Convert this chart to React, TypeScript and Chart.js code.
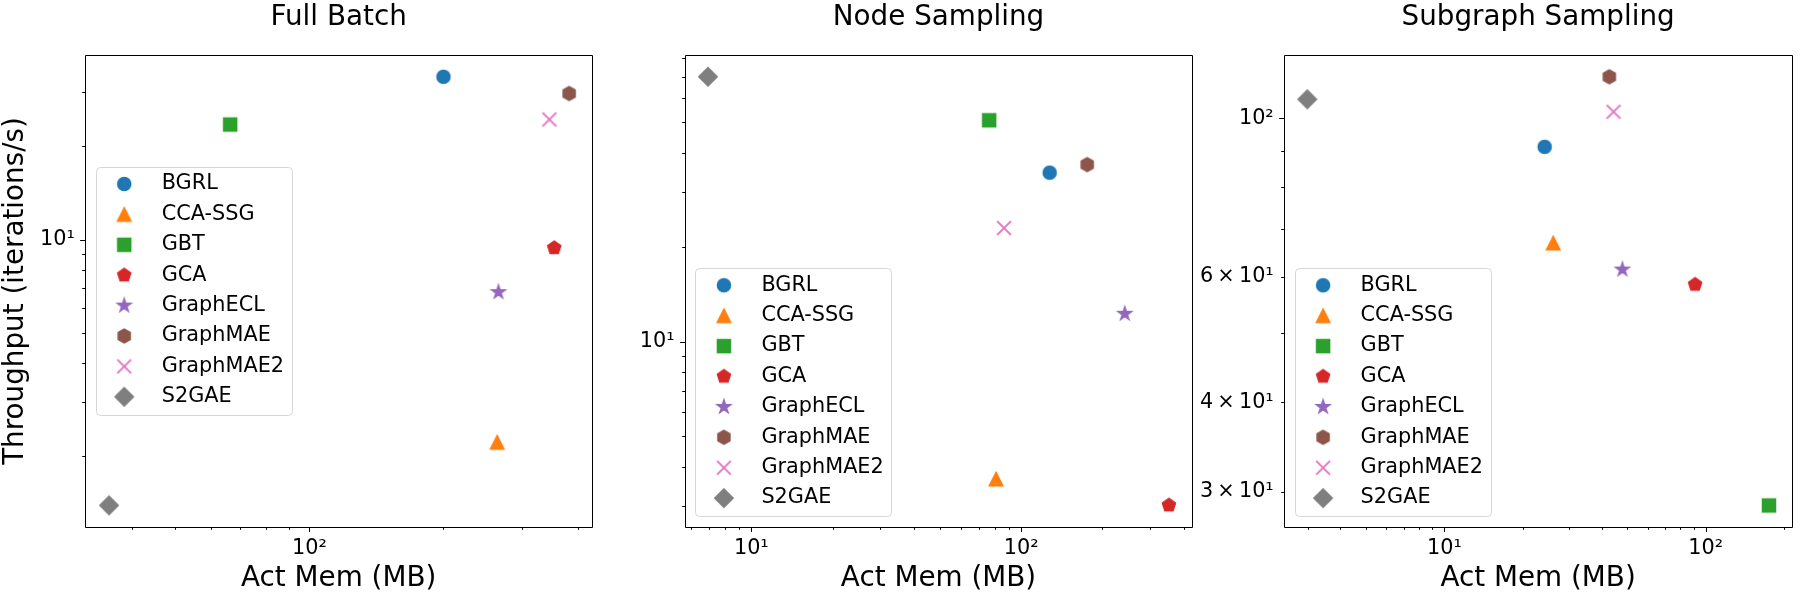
import React, { useEffect, useRef } from 'react';
import { Chart, registerables } from 'chart.js';

Chart.register(...registerables);

// ---------- data ----------
const methods = ['BGRL', 'CCA-SSG', 'GBT', 'GCA', 'GraphECL', 'GraphMAE', 'GraphMAE2', 'S2GAE'];
const colors = ['#1f77b4', '#ff7f0e', '#2ca02c', '#d62728', '#9467bd', '#8c564b', '#e377c2', '#7f7f7f'];
const markerKinds = ['circle', 'triangle', 'square', 'pentagon', 'star', 'hexagon', 'x', 'diamond'];

const panelTitles = ['Full Batch', 'Node Sampling', 'Subgraph Sampling'];
const xAxisTitle = 'Act Mem (MB)';
const yAxisTitle = 'Throughput (iterations/s)';

// Act Mem (MB) per method
const fullBatchMem = [200, 264, 66.4, 354.5, 265.8, 383, 345.8, 35.5];
const nodeSamplingMem = [127.5, 80.7, 76.1, 352.7, 242, 175.7, 86.4, 6.91];
const subgraphSamplingMem = [24.2, 26.1, 174.6, 91.1, 48, 42.8, 44.4, 2.99];

// Throughput (iterations/s) per method
const fullBatchThroughput = [33.5, 2.22, 23.5, 9.4, 6.77, 29.6, 24.4, 1.39];
const nodeSamplingThroughput = [34.6, 3.66, 50.8, 3.02, 12.29, 36.7, 23.05, 69.9];
const subgraphSamplingThroughput = [91.2, 66.9, 28.7, 58.5, 61.4, 114.3, 102.1, 106.3];

// axis limits
const fullBatchXRange = [31.4, 431];
const fullBatchYRange = [1.186, 39.3];
const nodeSamplingXRange = [5.68, 429.5];
const nodeSamplingYRange = [2.58, 81.8];
const subgraphSamplingXRange = [2.44, 213.9];
const subgraphSamplingYRange = [26.8, 122.5];

// tick positions
const fullBatchXTicks = [40, 50, 60, 70, 80, 90, 100, 200, 300, 400];
const fullBatchYTicks = [2, 3, 4, 5, 6, 7, 8, 9, 10, 20, 30];
const nodeSamplingXTicks = [6, 7, 8, 9, 10, 20, 30, 40, 50, 60, 70, 80, 90, 100, 200, 300, 400];
const nodeSamplingYTicks = [3, 4, 5, 6, 7, 8, 9, 10, 20, 30, 40, 50, 60, 70, 80];
const subgraphSamplingXTicks = [3, 4, 5, 6, 7, 8, 9, 10, 20, 30, 40, 50, 60, 70, 80, 90, 100, 200];
const subgraphSamplingYTicks = [30, 40, 50, 60, 70, 80, 90, 100];

// tick labels
const decadeTickLabels: Record<number, string> = { 10: '10\u00B9', 100: '10\u00B2' };
const subgraphYTickLabels: Record<number, string> = {
  30: '3\u2009\u00D7\u200910\u00B9',
  40: '4\u2009\u00D7\u200910\u00B9',
  60: '6\u2009\u00D7\u200910\u00B9',
  100: '10\u00B2',
};

// ---------- styling / layout ----------
const FONT = 'DejaVu Sans';
const TITLE_SIZE = 27.8;
const TICK_SIZE = 20.8;
const LEGEND_SIZE = 20.8;
const CANVAS_W = 600;
const CANVAS_H = 600;
const AREA_TOP = 55.3;
const AREA_BOTTOM = 526.7;

type PanelCfg = {
  title: string;
  mem: number[];
  thr: number[];
  xRange: number[];
  yRange: number[];
  xTicks: number[];
  yTicks: number[];
  xLabels: Record<number, string>;
  yLabels: Record<number, string>;
  showYTitle: boolean;
  legendLoc: 'center left' | 'lower left';
  areaLeft: number;
  areaRight: number;
  offset: number;
};

const panels: PanelCfg[] = [
  {
    title: panelTitles[0], mem: fullBatchMem, thr: fullBatchThroughput,
    xRange: fullBatchXRange, yRange: fullBatchYRange,
    xTicks: fullBatchXTicks, yTicks: fullBatchYTicks,
    xLabels: decadeTickLabels, yLabels: decadeTickLabels,
    showYTitle: true, legendLoc: 'center left', areaLeft: 85.3, areaRight: 596.4, offset: 0,
  },
  {
    title: panelTitles[1], mem: nodeSamplingMem, thr: nodeSamplingThroughput,
    xRange: nodeSamplingXRange, yRange: nodeSamplingYRange,
    xTicks: nodeSamplingXTicks, yTicks: nodeSamplingYTicks,
    xLabels: decadeTickLabels, yLabels: decadeTickLabels,
    showYTitle: false, legendLoc: 'lower left', areaLeft: 85.0, areaRight: 595.5, offset: 600,
  },
  {
    title: panelTitles[2], mem: subgraphSamplingMem, thr: subgraphSamplingThroughput,
    xRange: subgraphSamplingXRange, yRange: subgraphSamplingYRange,
    xTicks: subgraphSamplingXTicks, yTicks: subgraphSamplingYTicks,
    xLabels: decadeTickLabels, yLabels: subgraphYTickLabels,
    showYTitle: false, legendLoc: 'lower left', areaLeft: 84.2, areaRight: 594.7, offset: 1200,
  },
];

// ---------- marker images ----------
function makeMarker(kind: string, color: string): HTMLCanvasElement {
  const c = document.createElement('canvas');
  c.width = 28;
  c.height = 28;
  const g = c.getContext('2d') as CanvasRenderingContext2D;
  g.translate(14, 14);
  g.fillStyle = color;
  g.strokeStyle = color;
  g.lineWidth = 1.3;
  g.lineJoin = 'miter';
  g.beginPath();
  const poly = (n: number, R: number) => {
    for (let k = 0; k < n; k++) {
      const a = -Math.PI / 2 + (2 * Math.PI * k) / n;
      const px = R * Math.cos(a);
      const py = R * Math.sin(a);
      if (k === 0) g.moveTo(px, py);
      else g.lineTo(px, py);
    }
    g.closePath();
  };
  switch (kind) {
    case 'circle':
      g.arc(0, 0, 6.6, 0, Math.PI * 2);
      break;
    case 'square':
      g.rect(-6.6, -6.6, 13.2, 13.2);
      break;
    case 'triangle':
      g.moveTo(0, -6.9);
      g.lineTo(6.9, 6.9);
      g.lineTo(-6.9, 6.9);
      g.closePath();
      break;
    case 'pentagon':
      poly(5, 7);
      break;
    case 'hexagon':
      poly(6, 7);
      break;
    case 'star': {
      const R = 7.3;
      const r = R * 0.381966;
      for (let k = 0; k < 10; k++) {
        const a = -Math.PI / 2 + (Math.PI * k) / 5;
        const rad = k % 2 === 0 ? R : r;
        const px = rad * Math.cos(a);
        const py = rad * Math.sin(a);
        if (k === 0) g.moveTo(px, py);
        else g.lineTo(px, py);
      }
      g.closePath();
      break;
    }
    case 'diamond':
      g.moveTo(0, -9.3);
      g.lineTo(9.3, 0);
      g.lineTo(0, 9.3);
      g.lineTo(-9.3, 0);
      g.closePath();
      break;
    case 'x':
      g.lineWidth = 2;
      g.lineCap = 'butt';
      g.moveTo(-6.9, -6.9);
      g.lineTo(6.9, 6.9);
      g.moveTo(-6.9, 6.9);
      g.lineTo(6.9, -6.9);
      g.stroke();
      return c;
  }
  g.fill();
  g.stroke();
  return c;
}

const isDecade = (v: number) => Math.abs(Math.log10(v) - Math.round(Math.log10(v))) < 1e-9;

// frame + tick marks
const framePlugin = {
  id: 'frameTicks',
  afterDatasetsDraw(chart: any) {
    const { ctx, chartArea: ca } = chart;
    const snap = (v: number) => Math.round(v) + 0.5;
    ctx.save();
    ctx.strokeStyle = '#000';
    ctx.lineWidth = 1;
    ctx.beginPath();
    ctx.rect(snap(ca.left), snap(ca.top), Math.round(ca.right) - Math.round(ca.left), Math.round(ca.bottom) - Math.round(ca.top));
    ctx.stroke();
    const xs = chart.scales.x;
    const ys = chart.scales.y;
    ctx.beginPath();
    for (const t of xs.ticks) {
      const px = snap(xs.getPixelForValue(t.value));
      const len = isDecade(t.value) ? 4.9 : 2.8;
      ctx.moveTo(px, Math.round(ca.bottom));
      ctx.lineTo(px, Math.round(ca.bottom) + len);
    }
    for (const t of ys.ticks) {
      const py = snap(ys.getPixelForValue(t.value));
      const len = isDecade(t.value) ? 4.9 : 2.8;
      ctx.moveTo(Math.round(ca.left), py);
      ctx.lineTo(Math.round(ca.left) - len, py);
    }
    ctx.stroke();
    ctx.restore();
  },
};

// legend box inside the axes (matplotlib style)
function makeLegendPlugin(loc: string, images: HTMLCanvasElement[]) {
  return {
    id: 'axesLegend',
    afterDraw(chart: any) {
      const { ctx, chartArea: ca } = chart;
      const boxW = 196;
      const boxH = 248;
      const pad = 10.4;
      const bx = ca.left + pad;
      const by = loc === 'center left' ? (ca.top + ca.bottom) / 2 - boxH / 2 : ca.bottom - pad - boxH;
      ctx.save();
      ctx.beginPath();
      const r = 4;
      const x0 = Math.round(bx) + 0.5;
      const y0 = Math.round(by) + 0.5;
      const x1 = x0 + boxW;
      const y1 = y0 + boxH;
      ctx.moveTo(x0 + r, y0);
      ctx.lineTo(x1 - r, y0);
      ctx.arcTo(x1, y0, x1, y0 + r, r);
      ctx.lineTo(x1, y1 - r);
      ctx.arcTo(x1, y1, x1 - r, y1, r);
      ctx.lineTo(x0 + r, y1);
      ctx.arcTo(x0, y1, x0, y1 - r, r);
      ctx.lineTo(x0, y0 + r);
      ctx.arcTo(x0, y0, x0 + r, y0, r);
      ctx.closePath();
      ctx.fillStyle = 'rgba(255,255,255,0.8)';
      ctx.fill();
      ctx.strokeStyle = '#d6d6d6';
      ctx.lineWidth = 1;
      ctx.stroke();
      ctx.font = `${LEGEND_SIZE}px "${FONT}"`;
      ctx.fillStyle = '#000';
      ctx.textBaseline = 'middle';
      ctx.textAlign = 'left';
      methods.forEach((m, i) => {
        const ry = by + 17 + i * 30.4;
        const img = images[i];
        ctx.drawImage(img, bx + 28.5 - img.width / 2, ry - img.height / 2);
        ctx.fillText(m, bx + 66, ry);
      });
      ctx.restore();
    },
  };
}

function Panel({ cfg }: { cfg: PanelCfg }) {
  const ref = useRef<HTMLCanvasElement | null>(null);
  useEffect(() => {
    const canvas = ref.current;
    if (!canvas) return;
    const images = markerKinds.map((k, i) => makeMarker(k, colors[i]));
    const tickFont = { family: FONT, size: TICK_SIZE };
    const titleFont = { family: FONT, size: TITLE_SIZE };
    const chart = new Chart(canvas, {
      type: 'scatter',
      data: {
        datasets: methods.map((m, i) => ({
          label: m,
          data: [{ x: cfg.mem[i], y: cfg.thr[i] }],
          pointStyle: images[i] as any,
          pointRadius: 7,
          pointHoverRadius: 7,
          backgroundColor: colors[i],
          borderColor: colors[i],
          clip: false as any,
        })),
      },
      options: {
        responsive: false,
        animation: false,
        events: [],
        devicePixelRatio: 1,
        layout: { padding: { left: 0, top: 0, bottom: 0, right: CANVAS_W - cfg.areaRight } },
        plugins: {
          legend: { display: false },
          tooltip: { enabled: false },
          title: { display: false },
        },
        scales: {
          x: {
            type: 'logarithmic',
            position: 'bottom',
            bounds: 'data',
            min: cfg.xRange[0],
            max: cfg.xRange[1],
            afterBuildTicks: (s: any) => {
              s.ticks = cfg.xTicks.map((v) => ({ value: v }));
            },
            afterFit: (s: any) => {
              s.height = CANVAS_H - AREA_BOTTOM;
            },
            ticks: {
              callback: (v: any) => cfg.xLabels[Number(v)] ?? '',
              autoSkip: false,
              maxRotation: 0,
              minRotation: 0,
              padding: 9.6,
              font: tickFont,
              color: '#000',
            },
            grid: { display: false, drawTicks: false },
            border: { display: false },
            title: {
              display: true,
              text: xAxisTitle,
              font: titleFont,
              color: '#000',
              padding: { top: 0, bottom: 4.8 },
            },
          },
          y: {
            type: 'logarithmic',
            position: 'left',
            bounds: 'data',
            min: cfg.yRange[0],
            max: cfg.yRange[1],
            afterBuildTicks: (s: any) => {
              s.ticks = cfg.yTicks.map((v) => ({ value: v }));
            },
            afterFit: (s: any) => {
              s.width = cfg.areaLeft;
            },
            ticks: {
              callback: (v: any) => cfg.yLabels[Number(v)] ?? '',
              autoSkip: false,
              maxRotation: 0,
              minRotation: 0,
              padding: 10.5,
              font: tickFont,
              color: '#000',
            },
            grid: { display: false, drawTicks: false },
            border: { display: false },
            title: {
              display: cfg.showYTitle,
              text: yAxisTitle,
              font: { family: FONT, size: TITLE_SIZE, lineHeight: 1.1 },
              color: '#000',
              padding: { top: 0, bottom: 0 },
            },
          },
          titleAxis: {
            axis: 'x',
            type: 'linear',
            position: 'top',
            display: true,
            grid: { display: false, drawTicks: false },
            border: { display: false },
            ticks: { display: false },
            afterFit: (s: any) => {
              s.height = AREA_TOP;
            },
            title: {
              display: true,
              text: cfg.title,
              font: titleFont,
              color: '#000',
              padding: { top: 1.3, bottom: 0 },
            },
          },
        } as any,
      },
      plugins: [framePlugin, makeLegendPlugin(cfg.legendLoc, images)],
    } as any);
    return () => chart.destroy();
  }, [cfg]);
  return (
    <canvas
      ref={ref}
      width={CANVAS_W}
      height={CANVAS_H}
      style={{ position: 'absolute', left: cfg.offset, top: 0, width: CANVAS_W, height: CANVAS_H }}
    />
  );
}

export default function App() {
  return (
    <div style={{ position: 'fixed', left: 0, top: 0, width: 1800, height: 600, background: '#fff' }}>
      {panels.map((p) => (
        <Panel key={p.title} cfg={p} />
      ))}
    </div>
  );
}
